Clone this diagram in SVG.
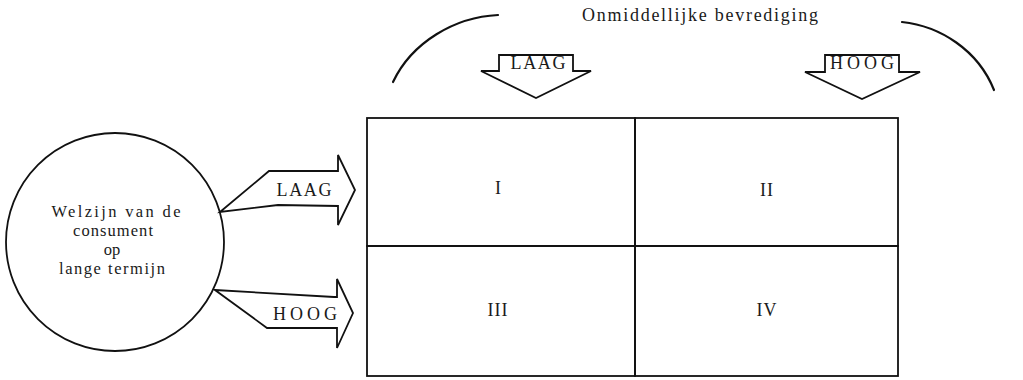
<svg xmlns="http://www.w3.org/2000/svg" width="1023" height="380" viewBox="0 0 1023 380">
  <style>
    .ln { fill: none; stroke: #111; stroke-width: 1.8; stroke-linejoin: miter; }
    .blk { fill: #fff; stroke: #111; stroke-width: 1.8; stroke-linejoin: miter; }
    .arc { fill: none; stroke: #111; stroke-width: 2.2; stroke-linecap: round; }
    .t { font-family: "Liberation Serif", "Times New Roman", serif; font-size: 18px; fill: #1a1a1a; }
    .s { font-size: 16.5px; }
    .c { text-anchor: middle; }
  </style>

  <rect width="1023" height="380" fill="#fff"/>

  <!-- heading with its two bracket arcs -->
  <g id="heading">
    <path class="arc" d="M498,15 C455,17 412,42 393,82"/>
    <path class="arc" d="M902,22 C940,26 978,50 994,90"/>
    <text class="t" x="582" y="21" textLength="236" lengthAdjust="spacing">Onmiddellijke bevrediging</text>
  </g>

  <!-- consumer welfare -->
  <g id="welzijn">
    <circle class="ln" cx="115" cy="242" r="109"/>
    <text class="t s c" x="116" y="217" textLength="129" lengthAdjust="spacing">Welzijn van de</text>
    <text class="t s c" x="113" y="236" textLength="80" lengthAdjust="spacing">consument</text>
    <text class="t s c" x="112" y="255">op</text>
    <text class="t s c" x="112" y="274" textLength="106" lengthAdjust="spacing">lange termijn</text>
  </g>

  <!-- 2x2 matrix -->
  <g id="cell-I">
    <rect class="ln" x="367" y="118" width="268" height="128"/>
    <text class="t c" x="498" y="194">I</text>
  </g>
  <g id="cell-II">
    <rect class="ln" x="635" y="118" width="263" height="128"/>
    <text class="t c" x="767" y="196" letter-spacing="1">II</text>
  </g>
  <g id="cell-III">
    <rect class="ln" x="367" y="246" width="268" height="130"/>
    <text class="t c" x="498" y="316" letter-spacing="1">III</text>
  </g>
  <g id="cell-IV">
    <rect class="ln" x="635" y="246" width="263" height="130"/>
    <text class="t c" x="767" y="316" letter-spacing="1">IV</text>
  </g>

  <!-- block arrows -->
  <g id="connectors">
    <g id="arrow-top-laag">
      <polygon class="blk" points="499,55 573,55 573,71 591,71 536,98 481,71 499,71"/>
      <text class="t c" x="538" y="69" textLength="55" lengthAdjust="spacing">LAAG</text>
    </g>
    <g id="arrow-top-hoog">
      <polygon class="blk" points="825,55 899,55 899,72 920,72 862,99 805,72 825,72"/>
      <text class="t c" x="862" y="69" textLength="64" lengthAdjust="spacing">HOOG</text>
    </g>
    <g id="arrow-left-laag">
      <polygon class="blk" points="220,212 269,171 338,171 338,155 355,190 338,225 338,206 278,205"/>
      <text class="t c" x="304" y="196" textLength="55" lengthAdjust="spacing">LAAG</text>
    </g>
    <g id="arrow-left-hoog">
      <polygon class="blk" points="215,290 334,297 337,297 337,279 353,313 337,348 337,328 267,328"/>
      <text class="t c" x="305" y="320" textLength="64" lengthAdjust="spacing">HOOG</text>
    </g>
  </g>
</svg>
